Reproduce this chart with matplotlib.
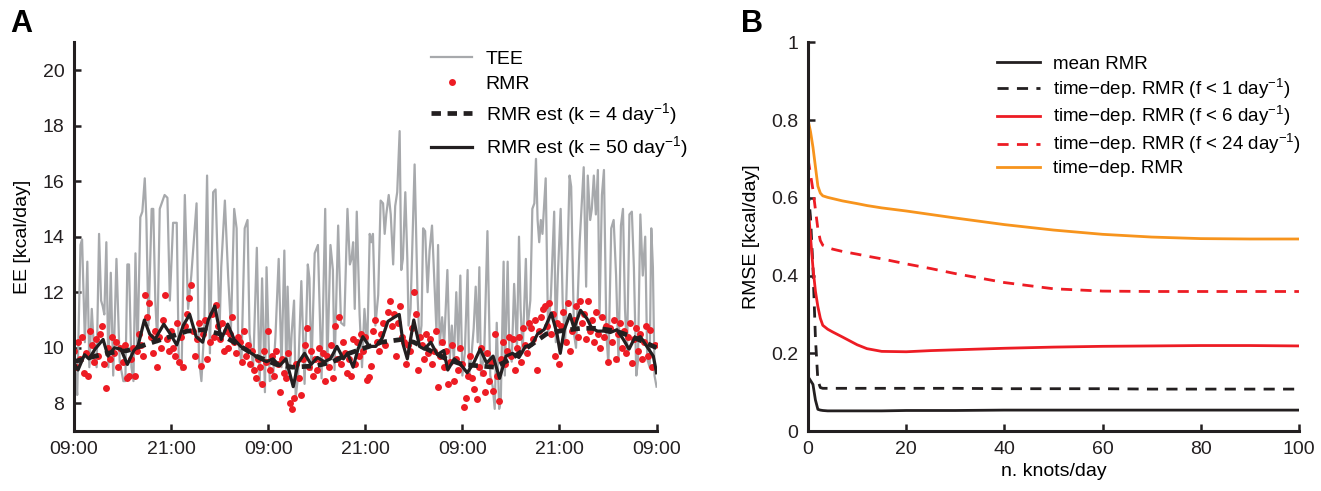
import numpy as np
import matplotlib
matplotlib.use('Agg')
import matplotlib.pyplot as plt

plt.rcParams['font.family'] = ['Liberation Sans', 'DejaVu Sans']
plt.rcParams['mathtext.default'] = 'regular'

# ---- panel A data (hours since 09:00) ----
tee_t = [0.0, 0.2, 0.4, 0.8, 1.0, 1.35, 1.65, 1.9, 2.2, 2.5, 2.8, 3.1, 3.35, 3.55, 3.75, 4.0, 4.25,
         4.55, 4.85, 5.25, 5.65, 6.1, 6.35, 6.6, 6.8, 7.1, 7.35, 7.6, 7.85, 8.2, 8.45, 8.75, 8.95,
         9.2, 9.6, 9.8, 10.05, 10.3,
         10.6, 11.2, 11.55, 11.85, 12.25, 12.7, 12.95, 13.3, 13.7, 14.1, 14.5, 14.85, 15.15, 15.45,
         15.75, 16.1, 16.45, 16.8, 17.2, 17.5, 18.0, 18.2, 18.65, 19.05, 19.4, 19.8, 20.1, 20.3,
         20.7, 21.1, 21.45, 21.7, 22.15, 22.6,
         22.95, 23.25, 23.6, 23.8, 24.2, 24.6, 24.9, 25.3, 25.65, 26.0, 26.25, 26.4, 26.7, 26.9,
         27.2, 27.4, 27.7, 28.1, 28.5, 28.9, 29.1, 29.35, 29.75, 30.15, 30.6, 31.05, 31.3, 31.7,
         32.0, 32.2, 32.65, 33.0, 33.4, 33.8, 34.1, 34.3, 34.5, 34.7, 34.95,
         35.3, 35.6, 35.9, 36.25, 36.55, 36.75, 36.95, 37.25, 37.6, 37.9, 38.2, 38.4, 38.6, 38.9,
         39.15, 39.45, 39.7, 39.95, 40.25, 40.45, 40.65, 40.95, 41.2, 41.35, 41.6, 42.1, 42.45,
         42.7, 42.95, 43.15, 43.4, 43.7, 43.95, 44.25, 44.6, 44.8, 45.0, 45.2, 45.5, 45.75, 46.15,
         46.45, 46.7, 46.95, 47.25, 47.5,
         47.75, 48.0, 48.3, 48.65, 48.85, 49.15, 49.4, 49.65, 49.9, 50.1, 50.3, 50.7, 51.1, 51.45,
         51.75, 52.0, 52.25, 52.55, 52.75, 53.1, 53.25, 53.6, 53.8, 54.1, 54.4, 54.75, 55.0, 55.2,
         55.45, 55.85, 56.05, 56.4, 56.65, 56.9, 57.1, 57.3, 57.5, 57.7, 57.9, 58.3, 58.6, 58.95,
         59.35, 59.55,
         59.8, 60.15, 60.4, 60.7, 61.05, 61.25, 61.45, 61.8, 62.05, 62.5, 63.0, 63.3, 63.5, 63.8,
         64.0, 64.25, 64.5, 64.75, 64.95, 65.25, 65.5, 65.8, 66.05, 66.4, 66.7, 67.0, 67.3, 67.6,
         67.85, 68.1, 68.35, 68.65, 68.95, 69.2, 69.5, 69.7, 70.0, 70.3, 70.6, 70.85, 71.15, 71.35,
         71.55, 71.75, 72.0]
tee_v = [9.6, 9.0, 8.3, 13.7, 13.9, 10.2, 13.1, 9.3, 11.4, 9.8, 9.3, 14.1, 11.7, 11.5, 11.2, 13.8, 9.3,
         12.7, 9.0, 13.2, 9.5, 8.8, 8.8, 13.0, 13.0, 9.3, 8.8, 13.4, 9.8, 14.7, 14.9, 16.1, 14.6,
         10.8, 15.0, 15.0, 11.7, 10.2,
         15.0, 15.5, 15.4, 11.7, 14.5, 14.5, 9.6, 9.2, 15.5, 11.4, 12.6, 14.0, 15.2, 9.6,
         8.8, 10.7, 16.2, 9.8, 15.6, 15.7, 10.7, 12.9, 15.3, 12.6, 10.7, 15.0, 14.3, 10.2,
         9.5, 14.3, 14.6, 10.5, 9.3, 13.6,
         8.7, 12.5, 8.4, 12.9, 8.8, 8.9, 10.4, 13.2, 9.3, 13.5, 8.9, 12.2, 9.3, 10.5,
         11.7, 8.2, 9.0, 12.4, 8.7, 13.0, 12.5, 9.2, 13.4, 13.7, 8.9, 15.0, 9.3, 13.7,
         12.8, 9.2, 14.4, 10.9, 10.8, 15.0, 13.0, 13.2, 13.8, 11.4, 14.9,
         11.2, 9.3, 11.4, 10.0, 14.1, 13.8, 14.1, 10.8, 11.9, 15.3, 15.2, 14.1, 14.8, 15.5,
         14.8, 13.0, 15.1, 15.6, 17.8, 12.8, 13.2, 15.6, 13.2, 10.8, 11.4, 16.6, 12.0,
         10.2, 10.8, 14.3, 14.2, 12.0, 13.5, 14.4, 12.0, 10.6, 13.7, 10.1, 11.1, 10.1, 12.8,
         9.6, 10.8, 9.5, 12.0, 9.9,
         12.6, 9.0, 9.8, 12.8, 9.0, 9.8, 10.7, 12.2, 10.2, 12.9, 9.0, 9.8, 14.2, 9.0,
         8.6, 7.8, 10.9, 7.8, 8.1, 13.1, 9.0, 13.1, 10.0, 9.5, 12.3, 10.0, 14.0, 11.4,
         9.8, 13.2, 10.7, 11.7, 15.0, 15.2, 16.8, 14.6, 13.8, 14.6, 14.1, 16.1, 10.5, 11.9,
         14.9, 10.2,
         12.6, 15.0, 11.6, 10.2, 13.8, 16.2, 15.8, 10.5, 10.0, 13.8, 16.5, 12.2, 16.2, 14.6,
         15.0, 16.2, 14.8, 16.4, 11.1, 15.5, 16.4, 10.5, 9.4, 14.3, 14.6, 12.6, 9.5, 14.4,
         15.0, 11.4, 9.8, 14.8, 14.9, 12.9, 9.0, 9.5, 14.8, 12.6, 14.0, 9.6, 9.3, 14.3,
         12.9, 9.0, 8.6]

# RMR measurements, one every 15 min
rmr_v = [9.9, 9.3, 10.2, 9.6, 10.4, 9.1, 9.8, 9.0, 10.6, 10.1, 9.5, 10.3,
         9.7, 10.5, 10.8, 9.4, 8.55, 10.0, 9.6, 10.4, 9.8, 10.2, 9.3, 10.0,
         9.5, 10.1, 8.9, 9.0, 9.6, 10.0, 9.0, 9.9, 10.5, 10.1, 9.7, 11.9,
         11.1, 11.6, 10.4, 9.8, 10.6, 9.3, 10.4, 10.0, 11.0, 11.9, 10.3, 9.9,
         10.6, 10.0, 9.7, 10.9, 9.5, 10.4, 9.3, 10.8, 11.2, 11.8, 12.25, 10.6,
         9.7, 10.3, 10.9, 9.35, 10.5, 11.0, 9.6, 10.2, 11.2, 10.4, 11.55, 10.8,
         10.3, 10.9, 9.9, 10.6, 10.0, 10.5, 11.1, 10.2, 9.8, 10.4, 10.2, 9.5,
         10.6, 9.7, 10.1, 9.4, 9.9, 9.2, 8.9, 9.6, 9.3, 8.7, 9.9, 9.5,
         10.6, 9.2, 9.7, 9.0, 9.9, 9.4, 8.4, 9.6, 9.1, 8.9, 9.8, 8.0,
         7.8, 8.2, 9.4, 8.9, 8.3, 9.6, 10.1, 10.7, 9.3, 9.9, 9.0, 9.6,
         9.2, 10.0, 9.5, 9.8, 8.8, 9.7, 9.3, 10.1, 8.9, 10.8, 9.6, 11.1,
         9.4, 10.2, 9.8, 9.1, 9.6, 9.0, 10.3, 9.4, 10.2, 9.7, 10.5, 9.9,
         10.4, 8.85, 8.95, 9.35, 10.6, 11.0, 10.2, 9.9, 10.5, 10.9, 10.1, 11.3,
         11.7, 10.8, 11.2, 9.7, 10.9, 11.5, 10.4, 10.2, 9.4, 10.1, 9.9, 10.7,
         12.0, 11.2, 9.2, 10.4, 10.1, 9.6, 10.5, 9.8, 10.3, 9.4, 9.9, 10.6,
         8.6, 9.7, 10.2, 9.3, 9.9, 8.7, 9.5, 10.1, 8.8, 9.6, 9.2, 10.0,
         9.4, 7.85, 8.2, 9.0, 9.7, 8.9, 8.5, 8.15, 9.3, 10.0, 9.1, 8.4,
         9.8, 8.8, 9.5, 8.45, 10.5, 9.0, 8.1, 9.6, 10.2, 9.4, 9.9, 10.4,
         9.7, 10.3, 9.2, 10.0, 10.4, 9.5, 10.7, 10.1, 9.8, 10.9, 10.7, 10.3,
         11.0, 9.2, 10.6, 11.1, 11.4, 11.5, 10.8, 11.6, 10.5, 11.2, 9.7, 10.9,
         9.4, 10.8, 11.3, 10.2, 11.6, 9.9, 10.6, 11.0, 11.5, 10.4, 11.7, 10.9,
         11.2, 10.3, 11.7, 10.6, 11.0, 10.2, 11.3, 10.5, 10.0, 11.1, 10.4, 10.8,
         9.5, 10.7, 10.2, 11.0, 9.6, 10.5, 10.9, 10.0, 10.6, 9.8, 10.4, 10.9,
         9.45, 10.3, 10.7, 9.9, 10.5, 9.6, 10.2, 10.8, 9.7, 10.65, 9.3, 10.1]
rmr_t = np.arange(len(rmr_v)) * 0.25

# smooth estimate, k = 4 / day
k4_t = [0, 1.3, 4, 6.6, 8.7, 11.9, 14, 16, 18, 19.8, 22.5, 25, 27, 30, 32, 34, 36, 38, 40.5,
        42, 44, 46, 48, 50, 52, 54, 56, 58.4, 60, 62.6, 64.8, 67, 69, 72]
k4_v = [9.5, 9.6, 9.8, 9.9, 10.1, 10.4, 10.6, 10.65, 10.5, 10.2, 9.7, 9.4, 9.3, 9.35, 9.5, 9.8,
        10.0, 10.2, 10.3, 10.2, 9.9, 9.6, 9.4, 9.35, 9.3, 9.6, 10.0, 10.5, 10.6, 10.7, 10.7,
        10.6, 10.4, 10.0]

# wiggly estimate, k = 50 / day
k50_t = [0, 0.5, 1.3, 1.85, 2.6, 3.6, 4.2, 5.0, 5.8, 6.6, 7.4, 7.9, 8.7, 9.35, 10.0, 11.1, 11.9,
         12.7, 13.5, 14.3, 15.1, 15.9, 16.6, 17.4, 18.2, 19.0, 19.8, 20.6, 21.4, 22.2, 23.0, 23.8,
         24.6, 25.4, 26.2, 27.1, 27.7, 28.5, 29.3, 30.1, 30.9, 31.7, 32.5, 33.3, 33.8, 34.5, 35.1,
         35.7, 36.5, 37.3, 38.1, 38.8, 39.6, 40.2, 40.7, 41.2, 42.0, 42.7, 43.3, 44.1, 44.9, 45.7,
         46.2, 47.0, 47.8, 48.6, 49.4, 50.2, 51.0, 51.8, 52.6, 53.4, 54.2, 55.0, 55.8, 56.6, 57.3,
         58.1, 59.0, 59.7, 60.1, 60.6, 61.3, 61.8, 62.6, 63.4, 64.0, 64.7, 65.5, 66.3, 67.1, 67.9,
         68.6, 69.2, 70.0, 70.8, 71.6, 72.0]
k50_v = [9.45, 9.2, 9.75, 9.6, 9.95, 10.3, 9.7, 10.0, 9.95, 9.4, 9.9, 10.05, 11.0, 10.5, 10.3,
         10.85, 10.5, 10.1, 10.8, 11.2, 10.4, 10.2, 11.0, 11.5, 10.3, 10.85, 10.3, 10.05, 9.9,
         9.75, 9.6, 9.5, 9.6, 9.35, 9.6, 8.6, 9.45, 9.8, 9.4, 9.65, 9.5, 9.6, 10.05, 9.6, 9.8,
         9.3, 9.95, 10.4, 10.05, 10.05, 10.35, 10.95, 11.1, 11.2, 10.1, 9.6, 11.0, 10.05, 9.95,
         10.2, 9.75, 9.9, 9.2, 9.6, 9.4, 9.1, 9.45, 9.95, 9.45, 9.7, 8.9, 9.7, 9.8, 9.65, 10.05,
         10.1, 10.5, 10.65, 11.25, 10.5, 9.8, 10.65, 11.2, 10.7, 11.35, 11.05, 10.7, 10.6, 10.6,
         10.55, 10.65, 10.3, 9.95, 10.3, 10.4, 10.05, 9.7, 9.1]

tick_hours = [0, 12, 24, 36, 48, 60, 72]
tick_names = ['09:00', '21:00', '09:00', '21:00', '09:00', '21:00', '09:00']

# ---- panel B data ----
knots = [0, 0.5, 1, 1.5, 2, 2.5, 3, 4, 5, 7, 10, 12, 15, 20, 25, 30, 40, 50, 60, 70, 80, 90, 100]
mean_rmr = [0.14, 0.13, 0.12, 0.08, 0.056, 0.054, 0.053, 0.052, 0.052, 0.052, 0.052, 0.052,
            0.052, 0.053, 0.053, 0.053, 0.054, 0.054, 0.054, 0.054, 0.054, 0.054, 0.054]
rmr_f1 = [0.62, 0.55, 0.42, 0.24, 0.13, 0.112, 0.11, 0.11, 0.11, 0.11, 0.11, 0.11, 0.11, 0.11,
          0.11, 0.11, 0.109, 0.109, 0.109, 0.108, 0.108, 0.108, 0.108]
rmr_f6 = [0.58, 0.50, 0.42, 0.36, 0.32, 0.29, 0.272, 0.262, 0.255, 0.242, 0.222, 0.212, 0.205,
          0.204, 0.207, 0.209, 0.213, 0.216, 0.218, 0.219, 0.220, 0.220, 0.219]
rmr_f24 = [0.70, 0.66, 0.62, 0.57, 0.52, 0.49, 0.478, 0.472, 0.468, 0.462, 0.455, 0.450, 0.443,
           0.430, 0.418, 0.405, 0.382, 0.366, 0.360, 0.359, 0.359, 0.359, 0.359]
rmr_td = [0.80, 0.77, 0.73, 0.68, 0.63, 0.612, 0.605, 0.601, 0.598, 0.592, 0.585, 0.580, 0.574,
          0.566, 0.557, 0.548, 0.531, 0.517, 0.506, 0.499, 0.495, 0.494, 0.494]

GRAY = '#a7a9ac'
RED = '#ed1c24'
BLACK = '#231f20'
ORANGE = '#f7941d'


def style_axes(ax):
    for s in ['top', 'right']:
        ax.spines[s].set_visible(False)
    for s in ['left', 'bottom']:
        ax.spines[s].set_linewidth(2.2)
        ax.spines[s].set_color(BLACK)
    ax.tick_params(direction='in', length=5, width=1.8, labelsize=14, colors=BLACK, pad=7)


fig = plt.figure(figsize=(13.21, 4.91), dpi=100)

# panel A
ax1 = fig.add_axes([0.056, 0.122, 0.441, 0.792])
ax1.plot(tee_t, tee_v, color=GRAY, lw=1.6, label='TEE')
ax1.plot(rmr_t, rmr_v, 'o', color=RED, ms=5, mec='none', label='RMR')
ax1.plot(k4_t, k4_v, color=BLACK, lw=3.4, ls=(0, (2.0, 1.4)), label='RMR est (k = 4 day$^{-1}$)')
ax1.plot(k50_t, k50_v, color=BLACK, lw=2.3, label='RMR est (k = 50 day$^{-1}$)')
ax1.set_xlim(0, 72)
ax1.set_ylim(7, 21)
ax1.set_yticks([8, 10, 12, 14, 16, 18, 20])
ax1.set_xticks(tick_hours)
ax1.set_xticklabels(tick_names)
ax1.set_ylabel('EE [kcal/day]', fontsize=14, labelpad=8)
style_axes(ax1)
ax1.legend(loc='upper left', bbox_to_anchor=(0.6, 1.0), frameon=False, fontsize=14,
           handlelength=2.1, handletextpad=0.7, labelspacing=0.4, borderaxespad=0)

# panel B
ax2 = fig.add_axes([0.6117, 0.122, 0.3716, 0.792])
ax2.plot(knots, mean_rmr, color=BLACK, lw=2, label='mean RMR')
ax2.plot(knots, rmr_f1, color=BLACK, lw=2, ls=(0, (4, 3)), label='time\u2212dep. RMR (f < 1 day$^{-1}$)')
ax2.plot(knots, rmr_f6, color=RED, lw=2, label='time\u2212dep. RMR (f < 6 day$^{-1}$)')
ax2.plot(knots, rmr_f24, color=RED, lw=2, ls=(0, (4, 3)), label='time\u2212dep. RMR (f < 24 day$^{-1}$)')
ax2.plot(knots, rmr_td, color=ORANGE, lw=2, label='time\u2212dep. RMR')
ax2.set_xlim(0, 100)
ax2.set_ylim(0, 1)
ax2.set_xticks([0, 20, 40, 60, 80, 100])
ax2.set_yticks([0, 0.2, 0.4, 0.6, 0.8, 1])
ax2.set_yticklabels(['0', '0.2', '0.4', '0.6', '0.8', '1'])
ax2.set_xlabel('n. knots/day', fontsize=14)
ax2.set_ylabel('RMSE [kcal/day]', fontsize=14, labelpad=8)
style_axes(ax2)
ax2.legend(loc='upper left', bbox_to_anchor=(0.37, 0.985), frameon=False, fontsize=13.5,
           handlelength=2.3, handletextpad=0.7, labelspacing=0.2, borderaxespad=0)

fig.text(0.008, 0.935, 'A', fontsize=22, fontweight='bold')
fig.text(0.561, 0.935, 'B', fontsize=22, fontweight='bold')

fig.savefig('out.png', dpi=100)
